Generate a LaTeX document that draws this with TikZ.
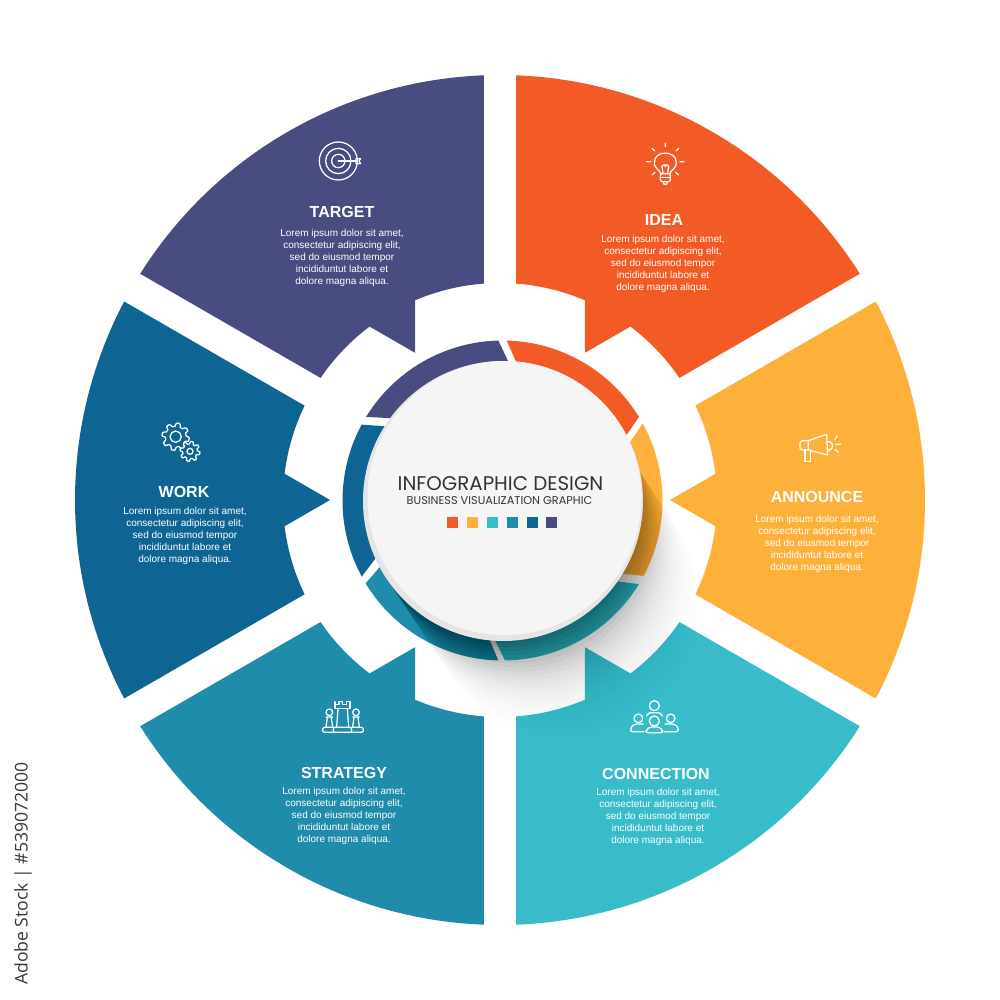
\documentclass[tikz,border=0pt]{standalone}
\usepackage{fontspec}
\setmainfont{Liberation Sans}
\newfontfamily\titlefont{Poppins}
\newfontfamily\markfont{Open Sans}
\definecolor{cOrange}{HTML}{F35B26}
\definecolor{cYellow}{HTML}{FDB03A}
\definecolor{cCyan}{HTML}{38BCC9}
\definecolor{cTeal}{HTML}{1E8CAA}
\definecolor{cBlue}{HTML}{0E6594}
\definecolor{cPurple}{HTML}{484C80}
\tikzset{
  heading/.style={text=white,font=\fontsize{16}{18}\selectfont\bfseries,inner sep=0pt},
  bodytext/.style={text=white,font=\fontsize{10}{12}\selectfont,align=center,inner sep=0pt},
  icon/.style={draw=white,line width=1.25pt,line cap=round,line join=round},
  swatch/.style={minimum size=11pt,inner sep=0pt,draw=none},
}
\newcommand{\sectorshape}[2]{%
  \fill[#1,rotate=#2] (27.84:425) arc[start angle=27.84,end angle=-27.84,radius=425]
    -- (-25.77:217) arc[start angle=-25.77,end angle=-6.95,radius=217]
    -- (170,0) -- (6.95:217) arc[start angle=6.95,end angle=25.77,radius=217] -- cycle;}
\newcommand{\ringseg}[5]{%
  \fill[#1] ($(2.5,-0.5)+(#2:160)$) arc[start angle=#2,end angle=#3,radius=160] -- #4 -- #5 -- cycle;}
\newcommand{\loremtext}{Lorem ipsum dolor sit amet,\\consectetur adipiscing elit,\\sed do eiusmod tempor\\incididuntut labore et\\dolore magna aliqua.}
\usetikzlibrary{calc}
\begin{document}
\begin{tikzpicture}[x=1pt,y=1pt]
\useasboundingbox (-500,-500) rectangle (500,500);
\fill[white] (-500,-500) rectangle (500,500);
% sectors
\sectorshape{cOrange}{60}
\sectorshape{cYellow}{0}
\sectorshape{cCyan}{-60}
\sectorshape{cTeal}{-120}
\sectorshape{cBlue}{180}
\sectorshape{cPurple}{120}
% ring
\ringseg{cOrange}{31.5}{88.5}{(17.5,134.9)}{(124.3,61.7)}
\ringseg{cYellow}{-28.1}{28.8}{(127.8,54.3)}{(116.4,-73.2)}
\ringseg{cCyan}{-89.1}{-31.5}{(114.3,-81)}{(-7.1,-136)}
\ringseg{cTeal}{211.2}{268.5}{(-12.5,-134.7)}{(-115.7,-61.7)}
\ringseg{cBlue}{151.7}{208.4}{(-121.9,-55)}{(-110.7,73.4)}
\ringseg{cPurple}{91.5}{148.5}{(-105.3,81.6)}{(10,134.9)}
% long shadow
\begin{scope}[shift={(-1,-3.5)},rotate=-56.5]
\foreach \t in {5,10,...,130}{
  \pgfmathsetmacro{\layerop}{0.095*exp(-\t/32)}
  \fill[black,opacity=\layerop] (0,135) arc[start angle=90,end angle=270,radius=135]
    -- (\t,-135) arc[start angle=-90,end angle=90,radius=135] -- cycle;
}
\end{scope}
% centre disc
\fill[black!10!white] (3,-1) circle[radius=140];
\fill[black!4!white] (4.5,2) circle[radius=137];
\node[inner sep=0pt,text=black!80,font=\titlefont\fontsize{19.8}{24}\selectfont] (maintitle) at (0.5,16.5) {INFOGRAPHIC DESIGN};
\node[inner sep=0pt,text=black!80,font=\titlefont\fontsize{11.3}{13}\selectfont] (subtitle) at (-0.5,-1) {BUSINESS VISUALIZATION GRAPHIC};
\node[swatch,fill=cOrange] (s1) at (-47.2,-22.3) {};
\node[swatch,fill=cYellow] (s2) at (-27.2,-22.3) {};
\node[swatch,fill=cCyan]   (s3) at (-7.2,-22.3) {};
\node[swatch,fill=cTeal]   (s4) at (12.5,-22.3) {};
\node[swatch,fill=cBlue]   (s5) at (32.5,-22.3) {};
\node[swatch,fill=cPurple] (s6) at (51.2,-22.3) {};
% texts
\node[heading] (t1) at (164,280) {IDEA};
\node[bodytext] (b1) at (163,236) {\loremtext};
\node[heading] (t2) at (317,3) {ANNOUNCE};
\node[bodytext] (b2) at (317,-44) {\loremtext};
\node[heading] (t3) at (156,-274) {CONNECTION};
\node[bodytext] (b3) at (158,-317) {\loremtext};
\node[heading] (t4) at (-156,-273) {STRATEGY};
\node[bodytext] (b4) at (-156,-316) {\loremtext};
\node[heading] (t5) at (-316,8) {WORK};
\node[bodytext] (b5) at (-315,-36) {\loremtext};
\node[heading] (t6) at (-158,288) {TARGET};
\node[bodytext] (b6) at (-158,242) {\loremtext};
% icons (zoom-crop coordinates, 3 units per pixel)
\begin{scope}[shift={(-210,370)},x=0.3333pt,y=-0.3333pt,icon]
\draw (145,93) circle[radius=57];
\draw (145,93) circle[radius=38];
\draw (145,93) circle[radius=20];
\draw (145,93) -- (198,93);
\draw (198,86) -- (212,86) -- (207,93) -- (212,101) -- (198,101) -- cycle;
\end{scope}
\begin{scope}[shift={(80,370)},x=0.3333pt,y=-0.3333pt,icon]
\draw (256,40)--(256,50) (296,55)--(288,63) (300,95)--(312,95) (287,127)--(296,135);
\draw (216,55)--(224,63) (200,95)--(212,95) (225,127)--(216,135);
\draw (242,131) .. controls (242,121) and (223,118) .. (223,97) .. controls (223,60) and (289,60) .. (289,97) .. controls (289,118) and (270,121) .. (270,131);
\draw (249,131) -- (246,108) -- (253,104) -- (256,110) -- (259,104) -- (266,108) -- (263,131);
\draw[rounded corners=2pt] (241,131) rectangle (271,155);
\draw (241,143) -- (271,143);
\draw (250,155) -- (252,163) -- (260,163) -- (262,155);
\end{scope}
\begin{scope}[shift={(-360,90)},x=0.3333pt,y=-0.3333pt,icon]
\draw[shift={(107,80)}] plot[smooth cycle,tension=0.2,samples=73,domain=0:355]
  (\x:{31+10*min(1,max(0,0.5+1.3*sin(8*\x)))});
\draw (107,80) circle[radius=17];
\draw[fill=cBlue,shift={(150,124)}] plot[smooth cycle,tension=0.2,samples=73,domain=0:355]
  (\x:{22+8*min(1,max(0,0.5+1.3*sin(8*\x)))});
\draw (150,124) circle[radius=9];
\end{scope}
\begin{scope}[shift={(280,80)},x=0.3333pt,y=-0.3333pt,icon]
\draw (85,62) -- (140,43) -- (143,105) -- (85,90) -- cycle;
\draw (85,62) -- (66,62) -- (60,68) -- (60,85) -- (66,90) -- (85,90);
\draw (75,90) -- (75,125) -- (92,125) -- (92,92);
\draw (142,65) -- (150,65) -- (157,72) -- (157,83) -- (150,90) -- (142,90);
\draw (165,58)--(172,48) (168,73)--(182,73) (165,88)--(175,97);
\end{scope}
\begin{scope}[shift={(-200,-195)},x=0.3333pt,y=-0.3333pt,icon]
\draw (105,20) -- (105,40) -- (150,40) -- (150,20) -- (139,20) -- (139,28) -- (128,28) -- (128,20) -- (117,20) -- (117,28) -- (105,28);
\draw (114,42) -- (110,95) (142,42) -- (146,95);
\draw[rounded corners=2pt] (100,97) rectangle (155,112);
\draw (88,52) circle[radius=10];
\draw (78,66) -- (98,66) (82,68) -- (78,96) (94,68) -- (98,96);
\draw[rounded corners=2pt] (100,112) -- (68,112) -- (68,97) -- (100,97);
\draw (168,52) circle[radius=10];
\draw (158,66) -- (178,66) (162,68) -- (158,96) (174,68) -- (178,96);
\draw[rounded corners=2pt] (155,112) -- (190,112) -- (190,97) -- (155,97);
\end{scope}
\begin{scope}[shift={(120,-190)},x=0.3333pt,y=-0.3333pt,icon]
\draw (103,47) circle[radius=15];
\draw[rounded corners=2pt] (80,78) -- (84,68) -- (122,68) -- (127,78);
\draw (55,85) circle[radius=13];
\draw (152,85) circle[radius=13];
\draw[rounded corners=2pt] (72,125) -- (32,125) -- (32,112) -- (44,102) -- (70,102);
\draw[rounded corners=2pt] (132,125) -- (175,125) -- (175,112) -- (163,102) -- (135,102);
\draw[fill=cCyan] (103,93) circle[radius=15];
\draw[fill=cCyan,rounded corners=2pt] (78,128) -- (78,120) -- (88,111) -- (118,111) -- (128,120) -- (128,128) -- cycle;
\end{scope}
% stock credit line
\node[rotate=90,inner sep=0pt,text=black!78,font=\markfont\fontsize{17.6}{22}\selectfont] (credit) at (-477,-373.5) {Adobe Stock | \#539072000};
\end{tikzpicture}
\end{document}
